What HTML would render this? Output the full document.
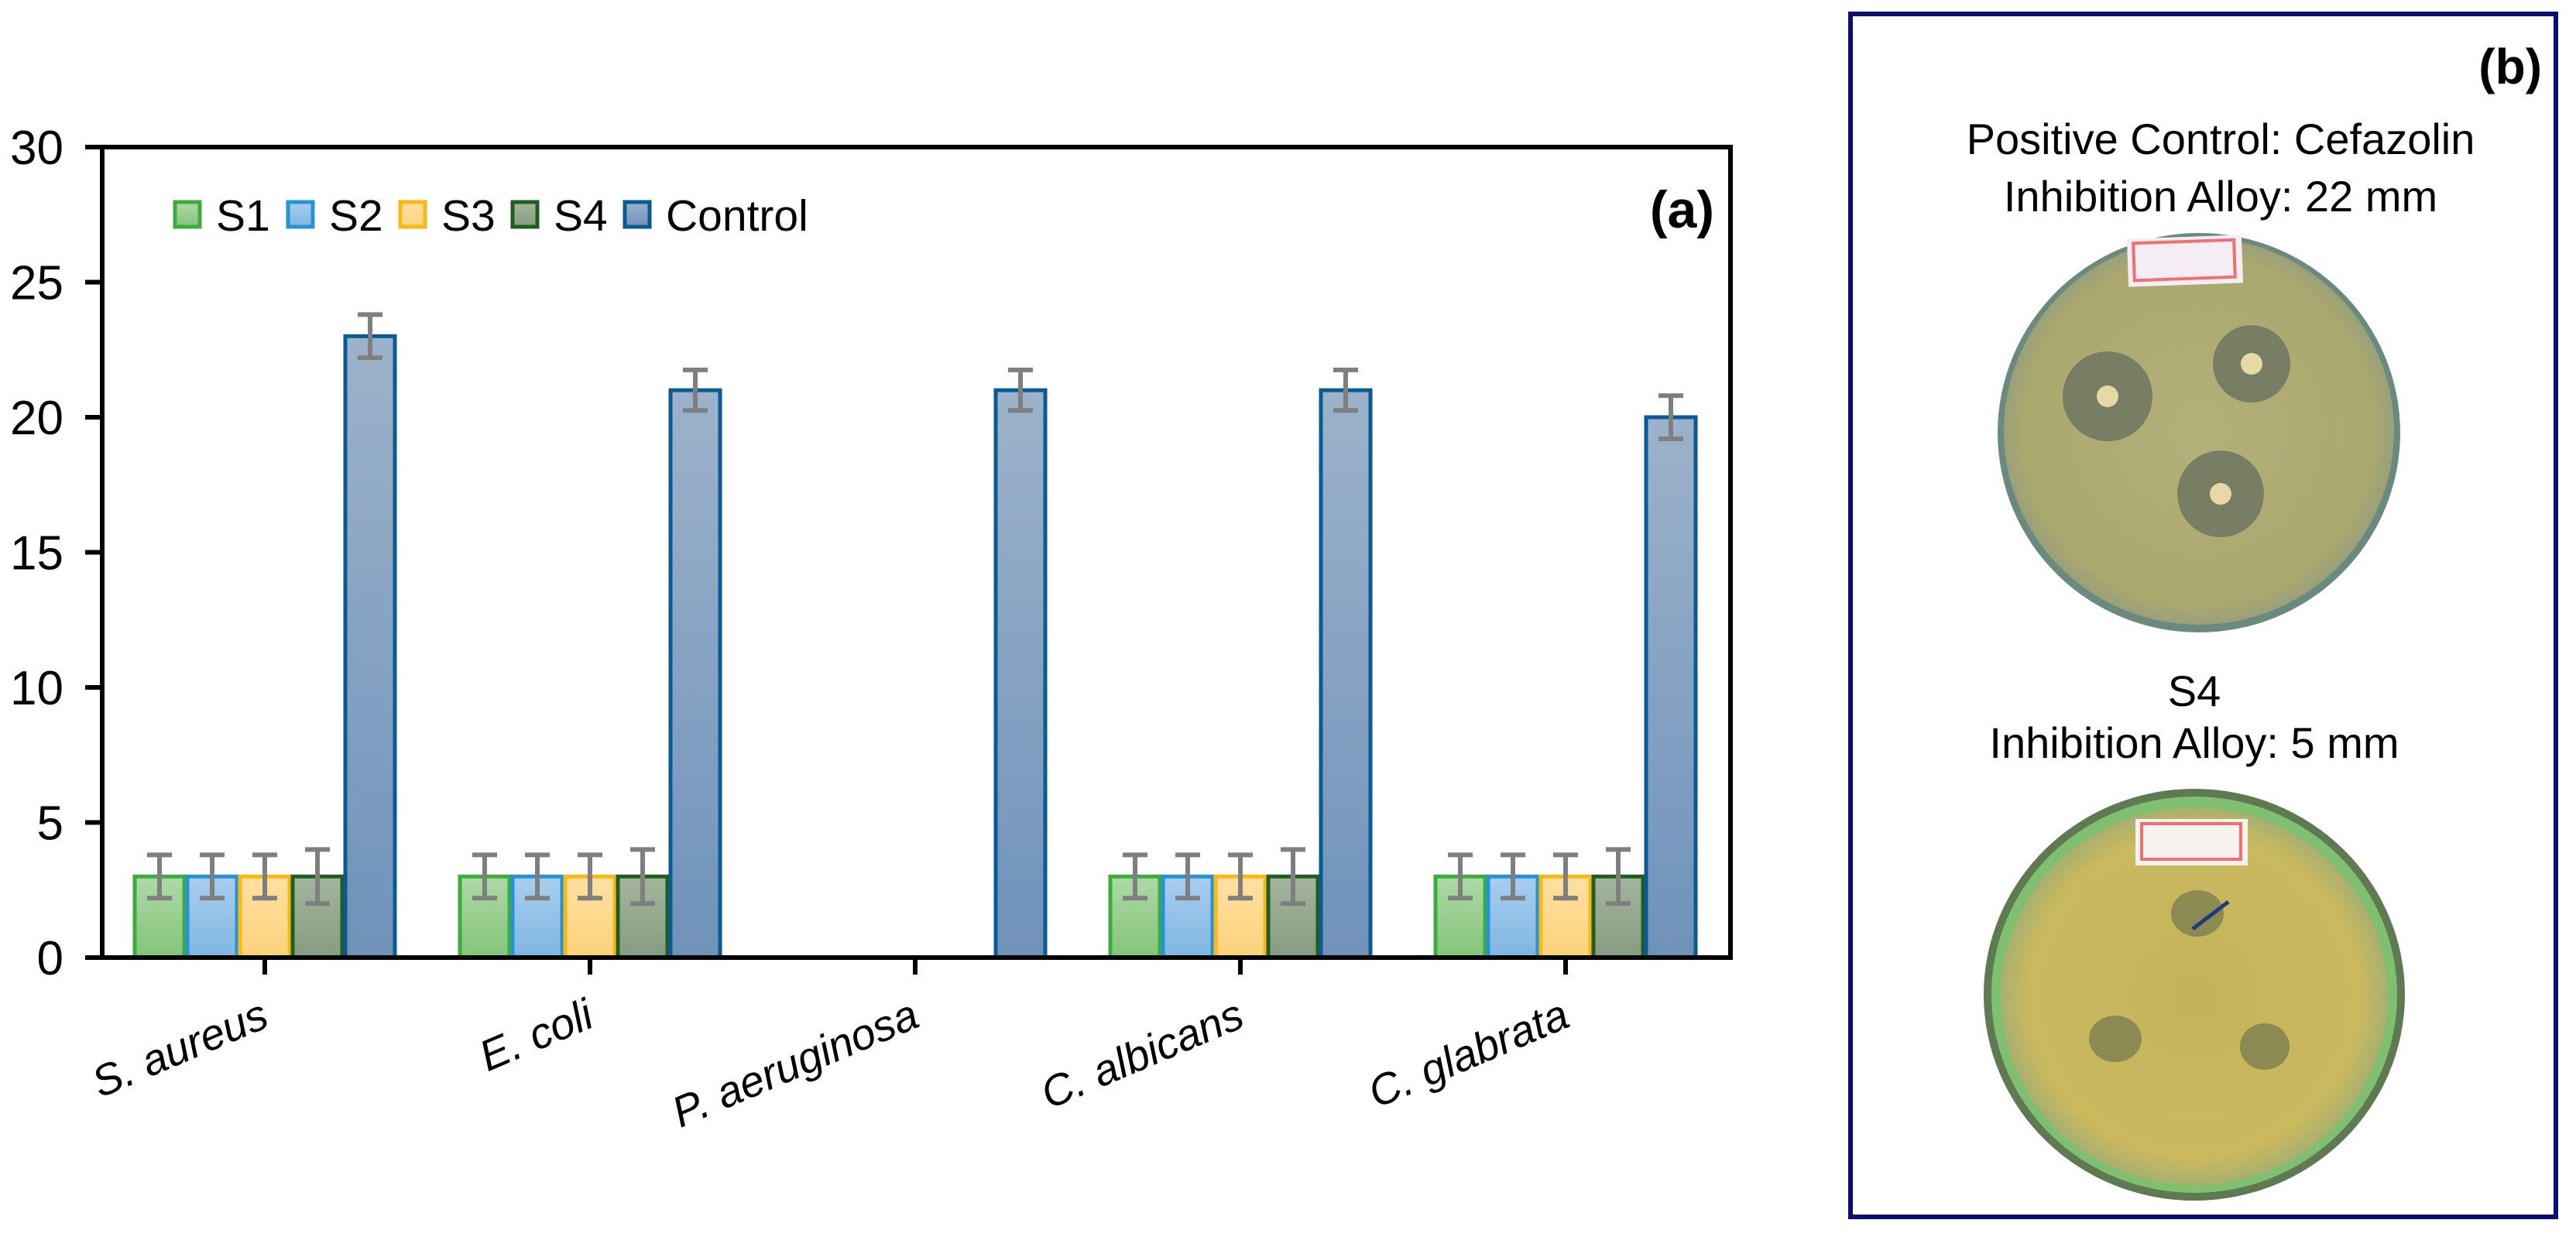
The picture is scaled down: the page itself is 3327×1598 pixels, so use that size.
<!DOCTYPE html>
<html><head><meta charset="utf-8"><style>
html,body{margin:0;padding:0;background:#fff;}
svg{display:block;font-family:"Liberation Sans",sans-serif;}
</style></head><body>
<svg id="chart" width="3327" height="1598" viewBox="0 0 3327 1598" xmlns="http://www.w3.org/2000/svg">
<defs>
<linearGradient id="g0" x1="0" y1="0" x2="0" y2="1"><stop offset="0" stop-color="#aed9a6"/><stop offset="1" stop-color="#84c47a"/></linearGradient>
<linearGradient id="g1" x1="0" y1="0" x2="0" y2="1"><stop offset="0" stop-color="#a9cdee"/><stop offset="1" stop-color="#7fb6e2"/></linearGradient>
<linearGradient id="g2" x1="0" y1="0" x2="0" y2="1"><stop offset="0" stop-color="#fee0a4"/><stop offset="1" stop-color="#fdd27a"/></linearGradient>
<linearGradient id="g3" x1="0" y1="0" x2="0" y2="1"><stop offset="0" stop-color="#a4b59e"/><stop offset="1" stop-color="#869c7e"/></linearGradient>
<linearGradient id="g4" x1="0" y1="0" x2="0" y2="1"><stop offset="0" stop-color="#9cb2ca"/><stop offset="1" stop-color="#6f92ba"/></linearGradient>
<radialGradient id="agar1" cx="0.5" cy="0.5" r="0.5"><stop offset="0" stop-color="#b3b07a"/><stop offset="0.9" stop-color="#aaa86e"/><stop offset="1" stop-color="#9aa07a"/></radialGradient>
<radialGradient id="agar2" cx="0.5" cy="0.5" r="0.5"><stop offset="0" stop-color="#c2b35c"/><stop offset="0.85" stop-color="#cbb95e"/><stop offset="1" stop-color="#a8b070"/></radialGradient>
</defs>
<g id="plot"></g>

<g>
<rect x="2390" y="18" width="911" height="1554" fill="#fff" stroke="#0b0b7a" stroke-width="6"/>
<text x="3283" y="108" text-anchor="end" font-size="64" font-weight="bold">(b)</text>
<text x="2868" y="199" text-anchor="middle" font-size="56">Positive Control: Cefazolin</text>
<text x="2868" y="273" text-anchor="middle" font-size="56">Inhibition Alloy: 22 mm</text>
<g>
<ellipse cx="2840" cy="559" rx="260" ry="258" fill="#6a8a7e"/>
<ellipse cx="2840" cy="557" rx="252" ry="250" fill="url(#agar1)"/>
<circle cx="2722" cy="512" r="58" fill="#6e7560" opacity="0.85"/>
<circle cx="2908" cy="470" r="50" fill="#6e7560" opacity="0.85"/>
<circle cx="2868" cy="638" r="56" fill="#6e7560" opacity="0.85"/>
<circle cx="2722" cy="512" r="14" fill="#e8d8a8"/>
<circle cx="2908" cy="470" r="14" fill="#e8d8a8"/>
<circle cx="2868" cy="638" r="14" fill="#e8d8a8"/>
<rect x="2748" y="306" width="148" height="62" fill="#f4eef4" transform="rotate(-2 2822 337)"/>
<rect x="2756" y="312" width="130" height="48" fill="none" stroke="#f07070" stroke-width="4" transform="rotate(-2 2822 337)"/>
</g>
<text x="2834" y="912" text-anchor="middle" font-size="56">S4</text>
<text x="2834" y="979" text-anchor="middle" font-size="56">Inhibition Alloy: 5 mm</text>
<g>
<ellipse cx="2834" cy="1285" rx="272" ry="266" fill="#5f7a52"/>
<ellipse cx="2834" cy="1285" rx="262" ry="256" fill="#7fbf70"/>
<ellipse cx="2834" cy="1287" rx="250" ry="244" fill="url(#agar2)"/>
<ellipse cx="2838" cy="1180" rx="34" ry="30" fill="#7c8050" opacity="0.8"/>
<ellipse cx="2732" cy="1342" rx="34" ry="30" fill="#7c8050" opacity="0.8"/>
<ellipse cx="2925" cy="1352" rx="32" ry="30" fill="#7c8050" opacity="0.8"/>
<line x1="2832" y1="1200" x2="2878" y2="1165" stroke="#203a80" stroke-width="5"/>
<rect x="2758" y="1058" width="145" height="60" fill="#f6f2ee"/>
<rect x="2766" y="1064" width="128" height="46" fill="none" stroke="#f07070" stroke-width="4"/>
</g>
</g>
</svg>
<script>
const categories = ["S. aureus","E. coli","P. aeruginosa","C. albicans","C. glabrata"];
const seriesNames = ["S1","S2","S3","S4","Control"];
const s1 = [3,3,0,3,3];
const s2 = [3,3,0,3,3];
const s3 = [3,3,0,3,3];
const s4 = [3,3,0,3,3];
const control = [23,21,21,21,20];
const err1 = [0.8,0.8,0,0.8,0.8];
const err2 = [0.8,0.8,0,0.8,0.8];
const err3 = [0.8,0.8,0,0.8,0.8];
const err4 = [1.0,1.0,0,1.0,1.0];
const errC = [0.8,0.75,0.75,0.75,0.8];
const yTicks = [0,5,10,15,20,25,30];

const series = [s1,s2,s3,s4,control];
const errs = [err1,err2,err3,err4,errC];
const fills = ["url(#g0)","url(#g1)","url(#g2)","url(#g3)","url(#g4)"];
const strokes = ["#3dab3d","#2494d4","#fbb812","#1f5e20","#0a5a94"];
const NS = "http://www.w3.org/2000/svg";
const L=132, R=2235, T=190, B=1237, YMAX=30;
const catW=(R-3-L)/categories.length, barW=68;
const y = v => B - v/YMAX*(B-T);
const xc = i => L + catW*(i+0.5);
const g = document.getElementById('plot');
function mk(tag, attrs, parent){const e=document.createElementNS(NS,tag);for(const k in attrs)e.setAttribute(k,attrs[k]);(parent||g).appendChild(e);return e;}

yTicks.forEach(t=>{
  const tk=mk('line',{x1:L-22,x2:L,y1:y(t),y2:y(t),stroke:'#000','stroke-width':6});
  
  
  const lb=mk('text',{x:82,y:y(t)+22,'text-anchor':'end','font-size':62});
  lb.textContent=t;
  
  
});
categories.forEach((c,i)=>{
  series.forEach((s,j)=>{
    const v=s[i]; if(!v) return;
    const x=xc(i)-2.5*barW+j*barW;
    const b=mk('rect',{x:x+2,y:y(v),width:barW-4,height:B-y(v),fill:fills[j],stroke:strokes[j],'stroke-width':5});
    
    
    const e=errs[j][i], cx=x+barW/2;
    const eb=mk('path',{d:`M${cx},${y(v+e)}V${y(v-e)}M${cx-16},${y(v+e)}H${cx+16}M${cx-16},${y(v-e)}H${cx+16}`,stroke:'#7f7f7f','stroke-width':6,fill:'none'});
    
    
  });
  const tk=mk('line',{x1:xc(i),x2:xc(i),y1:B,y2:B+22,stroke:'#000','stroke-width':6});
  
  
  const lb=mk('text',{x:xc(i)+8,y:B+88,'text-anchor':'end','font-size':56,'font-style':'italic',transform:`rotate(-23 ${xc(i)+8} ${B+88})`});
  lb.textContent=c;
  
  
});
const fr=mk('rect',{x:L,y:T,width:R-L,height:B-T,fill:'none',stroke:'#000','stroke-width':6});


const legX=[226,372,517,662,807];
seriesNames.forEach((n,j)=>{
  const r=mk('rect',{x:legX[j],y:261,width:32,height:32,fill:fills[j],stroke:strokes[j],'stroke-width':5});
  
  
  const t=mk('text',{x:legX[j]+53,y:298,'font-size':57});
  t.textContent=n;
  
  
});
const pa=mk('text',{x:2214,y:294,'text-anchor':'end','font-size':68,'font-weight':'bold'});
pa.textContent='(a)';


</script>
</body></html>
